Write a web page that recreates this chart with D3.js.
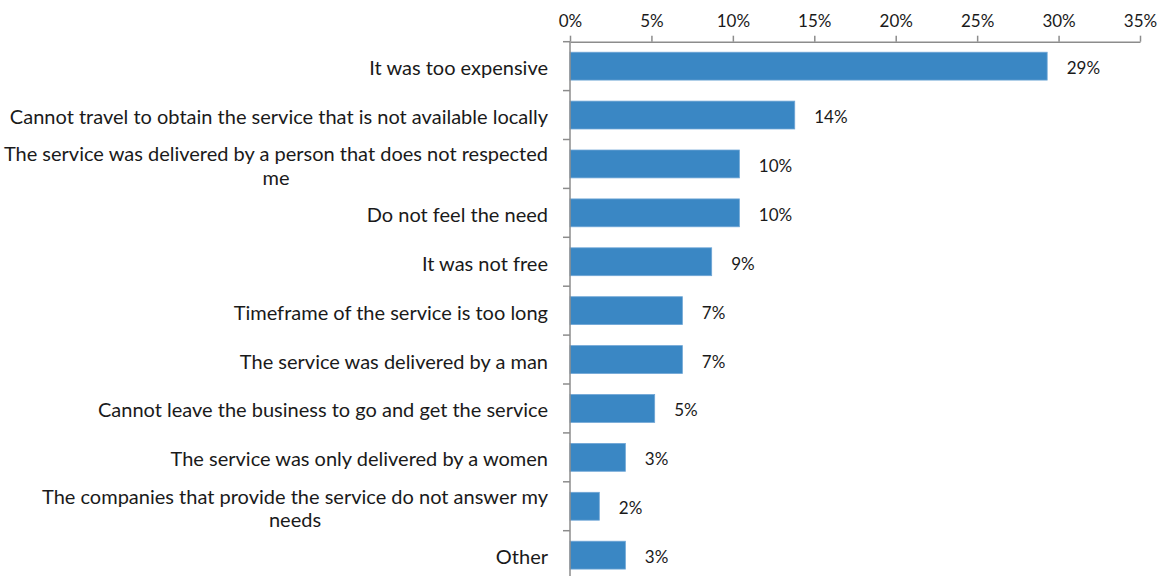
<!DOCTYPE html>
<html>
<head>
<meta charset="utf-8">
<script src="https://cdn.jsdelivr.net/npm/d3@7/dist/d3.min.js"></script>
<style>
  body { margin: 0; background: #ffffff; }
  svg { display: block; }
</style>
</head>
<body>
<svg id="chart" width="1162" height="576"></svg>
<script>
// Reasons given for not using the service (share of respondents, %)
const categories = [
  "It was too expensive",
  "Cannot travel to obtain the service that is not available locally",
  "The service was delivered by a person that does not respected\nme",
  "Do not feel the need",
  "It was not free",
  "Timeframe of the service is too long",
  "The service was delivered by a man",
  "Cannot leave the business to go and get the service",
  "The service was only delivered by a women",
  "The companies that provide the service do not answer my\nneeds",
  "Other"
];
const values = [29.3, 13.8, 10.4, 10.4, 8.7, 6.9, 6.9, 5.2, 3.4, 1.8, 3.4];
const tickValues = [0, 5, 10, 15, 20, 25, 30, 35];

const W = 1162, H = 576;
const margin = { top: 41.7, left: 570, right: 22, bottom: -3.6 };
const FONT = "Lato, 'Open Sans', sans-serif";
const TEXT = "#1a1a1a";
const AXIS = "#8c8c8c";
const BAR = "#3a87c4";

const svg = d3.select("#chart");

const x = d3.scaleLinear()
  .domain([0, 35])
  .range([margin.left, W - margin.right]);

const y = d3.scaleBand()
  .domain(categories)
  .range([margin.top, H - margin.bottom])
  .paddingInner(0.43)
  .paddingOuter(0.215);

// Bars
svg.append("g")
  .selectAll("rect")
  .data(values)
  .join("rect")
  .attr("x", x(0))
  .attr("y", (d, i) => y(categories[i]))
  .attr("width", d => x(d) - x(0))
  .attr("height", y.bandwidth())
  .attr("fill", BAR)
  .attr("stroke", "#6fa6d6")
  .attr("stroke-width", 0.8);

// Value axis along the top
const xAxis = d3.axisTop(x)
  .tickValues(tickValues)
  .tickFormat(d => d + "%")
  .tickSize(6)
  .tickSizeOuter(0)
  .tickPadding(9);

const gx = svg.append("g")
  .attr("transform", `translate(0,${margin.top})`)
  .call(xAxis);
gx.select(".domain").attr("stroke", AXIS).attr("stroke-width", 1.5);
gx.selectAll(".tick line").attr("stroke", AXIS).attr("stroke-width", 1.5);
gx.selectAll(".tick text")
  .attr("fill", TEXT)
  .style("font-family", FONT)
  .style("font-size", "17px");

// Category axis: line at 0% with ticks on band boundaries
const gy = svg.append("g");
gy.append("line")
  .attr("x1", x(0)).attr("x2", x(0))
  .attr("y1", margin.top).attr("y2", H + 5)
  .attr("stroke", AXIS).attr("stroke-width", 1.5);
const step = y.step();
const boundaries = d3.range(categories.length + 1).map(i => margin.top + i * step);
gy.selectAll("line.tick")
  .data(boundaries)
  .join("line")
  .attr("class", "tick")
  .attr("x1", x(0) - 7).attr("x2", x(0))
  .attr("y1", d => d).attr("y2", d => d)
  .attr("stroke", AXIS).attr("stroke-width", 1.5);

// Category labels: block right-aligned, wrapped lines centred within the block
const labelRight = 548;
const lineGap = 23.4;
categories.forEach((c, i) => {
  const lines = c.split("\n");
  const cy = y(c) + y.bandwidth() / 2 + 9;
  const g = svg.append("g");
  const texts = lines.map((ln, j) => g.append("text")
    .attr("y", cy + (j - (lines.length - 1) / 2) * lineGap)
    .attr("fill", TEXT)
    .style("font-family", FONT)
    .style("font-size", "20px")
    .text(ln));
  const widths = texts.map(t => t.node().getComputedTextLength());
  const maxW = d3.max(widths);
  texts.forEach(t => t.attr("x", labelRight - maxW / 2).attr("text-anchor", "middle"));
});

// Value labels
svg.append("g")
  .selectAll("text")
  .data(values)
  .join("text")
  .attr("x", d => x(d) + 19.5)
  .attr("y", (d, i) => y(categories[i]) + y.bandwidth() / 2 + 8)
  .attr("fill", TEXT)
  .style("font-family", FONT)
  .style("font-size", "17px")
  .text(d => Math.round(d) + "%");
</script>
</body>
</html>
